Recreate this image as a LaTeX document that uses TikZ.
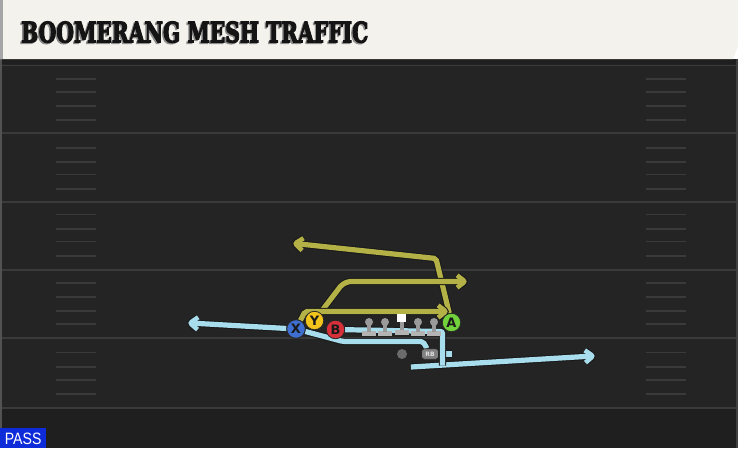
\documentclass[tikz,border=0pt]{standalone}
\usepackage{fontspec}
\usepackage{graphicx}
\usetikzlibrary{calc}
\newfontfamily\titlefont{DejaVu Serif Condensed}[BoldFeatures={FakeBold=4}]
\newfontfamily\playerfont{DejaVu Sans}
\newfontfamily\passfont{Liberation Sans}
\definecolor{fieldbg}{HTML}{242424}
\definecolor{fielddark}{HTML}{1F1F1F}
\definecolor{lineclr}{HTML}{3A3A3A}
\definecolor{headbg}{HTML}{F4F2EC}
\definecolor{routeY}{HTML}{B4B247}
\definecolor{routeB}{HTML}{A8DDEE}
\definecolor{xblue}{HTML}{3E6ECF}
\definecolor{yyellow}{HTML}{F2C41C}
\definecolor{bred}{HTML}{D8303A}
\definecolor{agreen}{HTML}{72D23C}
\definecolor{passblue}{HTML}{0D2BD8}
\definecolor{linegray}{HTML}{B4B4B4}
\definecolor{headgray}{HTML}{9A9A9A}
% #1 style, #2 path, #3 tip coordinate, #4 coordinate the tip points away from
\newcommand{\routearrow}[4]{%
  \draw[#1,outl] #2;
  \draw[#1,outl,line width=6.8pt,line join=miter] ($(#3)!10pt!38:(#4)$) -- (#3) -- ($(#3)!10pt!-38:(#4)$);
  \draw[#1] #2;
  \draw[#1,line width=4.6pt,line join=miter] ($(#3)!10pt!38:(#4)$) -- (#3) -- ($(#3)!10pt!-38:(#4)$);
}
\newcommand{\routeplain}[2]{\draw[#1,outl] #2; \draw[#1] #2;}
\tikzset{
  ydl/.style={draw=lineclr, line width=1.5pt},
  hashm/.style={draw=lineclr, line width=1.2pt},
  outl/.style={line width=7.2pt, draw=black!90},
  yroute/.style={line width=5.2pt, draw=routeY, rounded corners=2pt},
  broute/.style={line width=5.2pt, draw=routeB, rounded corners=2pt},
  player/.style={circle, draw=black!85, line width=0.8pt, minimum size=18.5pt, inner sep=0pt,
    font=\playerfont\bfseries\fontsize{13}{13}\selectfont, text=black!90},
  lhead/.style={circle, fill=headgray, inner sep=0pt, minimum size=8pt},
  rbbox/.style={rounded corners=3pt, fill=black!50, draw=black!85, line width=0.6pt,
    minimum width=17pt, minimum height=10.5pt, inner sep=0pt,
    font=\playerfont\bfseries\fontsize{6}{6}\selectfont, text=black!12},
}
\begin{document}
\begin{tikzpicture}[x=1pt,y=-1pt]
\useasboundingbox (0,0) rectangle (738,448);
% field
\fill[fieldbg] (0,59) rectangle (738,448);
\fill[fielddark] (0,408) rectangle (738,448);
\fill[black!88] (0,59) rectangle (738,64);
\fill[black!68] (0,59) rectangle (2,448);
\fill[black!75] (736,59) rectangle (738,448);
% yard lines
\foreach \yy in {65.5,133,202,270,338,408}
  \draw[ydl] (2,\yy) -- (736,\yy);
% hash marks
\foreach \yy in {79,92,106,120,148,162,174.5,189,214.5,229,241.5,256,283,297,311,324,352.5,367,380,394}{
  \draw[hashm] (56,\yy) -- (96,\yy);
  \draw[hashm] (646,\yy) -- (686,\yy);
}
% header
\fill[headbg] (0,0) -- (738,0) -- (738,46) -- (733,59) -- (0,59) -- cycle;
\fill[black!35] (0,0) rectangle (3,59);
\node[anchor=south west, inner sep=0pt, text=black!45] (titleshadow) at (19.6,44.2)
  {\resizebox{347pt}{21pt}{\titlefont\bfseries BOOMERANG MESH TRAFFIC}};
\node[anchor=south west, inner sep=0pt, text=black!92] (title) at (21,43)
  {\resizebox{347pt}{21pt}{\titlefont\bfseries BOOMERANG MESH TRAFFIC}};
% PASS label
\fill[passblue] (0,428) rectangle (45.5,448);
\node[anchor=south west, inner sep=0pt, text=white] (pass) at (4.7,445)
  {\resizebox{36.5pt}{11.5pt}{\passfont PASS}};
% player nodes (positions)
\node[player, fill=xblue] (X) at (296,329) {};
\node[player, fill=yyellow] (Y) at (314.5,320.5) {};
\node[player, fill=bred] (B) at (335.5,329.5) {};
\node[player, fill=agreen] (A) at (451.5,322.5) {};
\node[rbbox] (RB) at (430,354) {};
\node[circle, fill=black!58, inner sep=0pt, minimum size=10pt] (QB) at (402,354) {};
% route bend points and free ends
\coordinate (b4s) at (411,367);
\coordinate (b4t) at (593,356);
\coordinate (b5t) at (190,323);
\coordinate (b2a) at (343,341.5);
\coordinate (b2b) at (423,341.5);
\coordinate (b3a) at (442.5,331.5);
\coordinate (b3b) at (442.5,365.5);
\coordinate (b1t) at (452,354);
\coordinate (y1a) at (436,258.5);
\coordinate (y1t) at (295,243.5);
\coordinate (y2a) at (341.5,285);
\coordinate (y2b) at (348,281.5);
\coordinate (y2t) at (465,281.5);
\coordinate (y3a) at (305,311.5);
\coordinate (y3t) at (446,311.5);
% blue routes
\routeplain{broute}{(RB) -- (b1t)}
\routearrow{broute}{(b4s) -- (b4t)}{b4t}{b4s}
\routeplain{broute}{(B) -- (b3a) -- (b3b)}
\routeplain{broute}{(X) -- (b2a) -- (b2b) -- (RB)}
\routearrow{broute}{(X) -- (b5t)}{b5t}{X}
% yellow routes
\routearrow{yroute}{(A) -- (y1a) -- (y1t)}{y1t}{y1a}
\routearrow{yroute}{(Y) -- (y2a) -- (y2b) -- (y2t)}{y2t}{y2b}
\routearrow{yroute}{(X) -- (y3a) -- (y3t)}{y3t}{y3a}
% linemen
\foreach \lx [count=\i] in {369,385,418,434}{
  \fill[linegray] (\lx-7,331) rectangle (\lx+7,336);
  \fill[black!40] (\lx-1.8,324) rectangle (\lx+1.8,331.5);
  \node[lhead] (L\i) at (\lx,322) {};
}
\fill[linegray] (394.7,329.5) rectangle (408.7,334.5);
\fill[black!40] (399.9,321) rectangle (403.5,330);
\node[fill=white, inner sep=0pt, minimum size=8.5pt] (C) at (401.7,318) {};
% players on top
\node[player, fill=yyellow] (Yt) at (Y) {Y};
\node[player, fill=xblue] (Xt) at (X) {X};
\node[player, fill=bred] (Bt) at (B) {B};
\node[player, fill=agreen] (At) at (A) {A};
\node[rbbox] (RBt) at (RB) {RB};
\end{tikzpicture}
\end{document}
